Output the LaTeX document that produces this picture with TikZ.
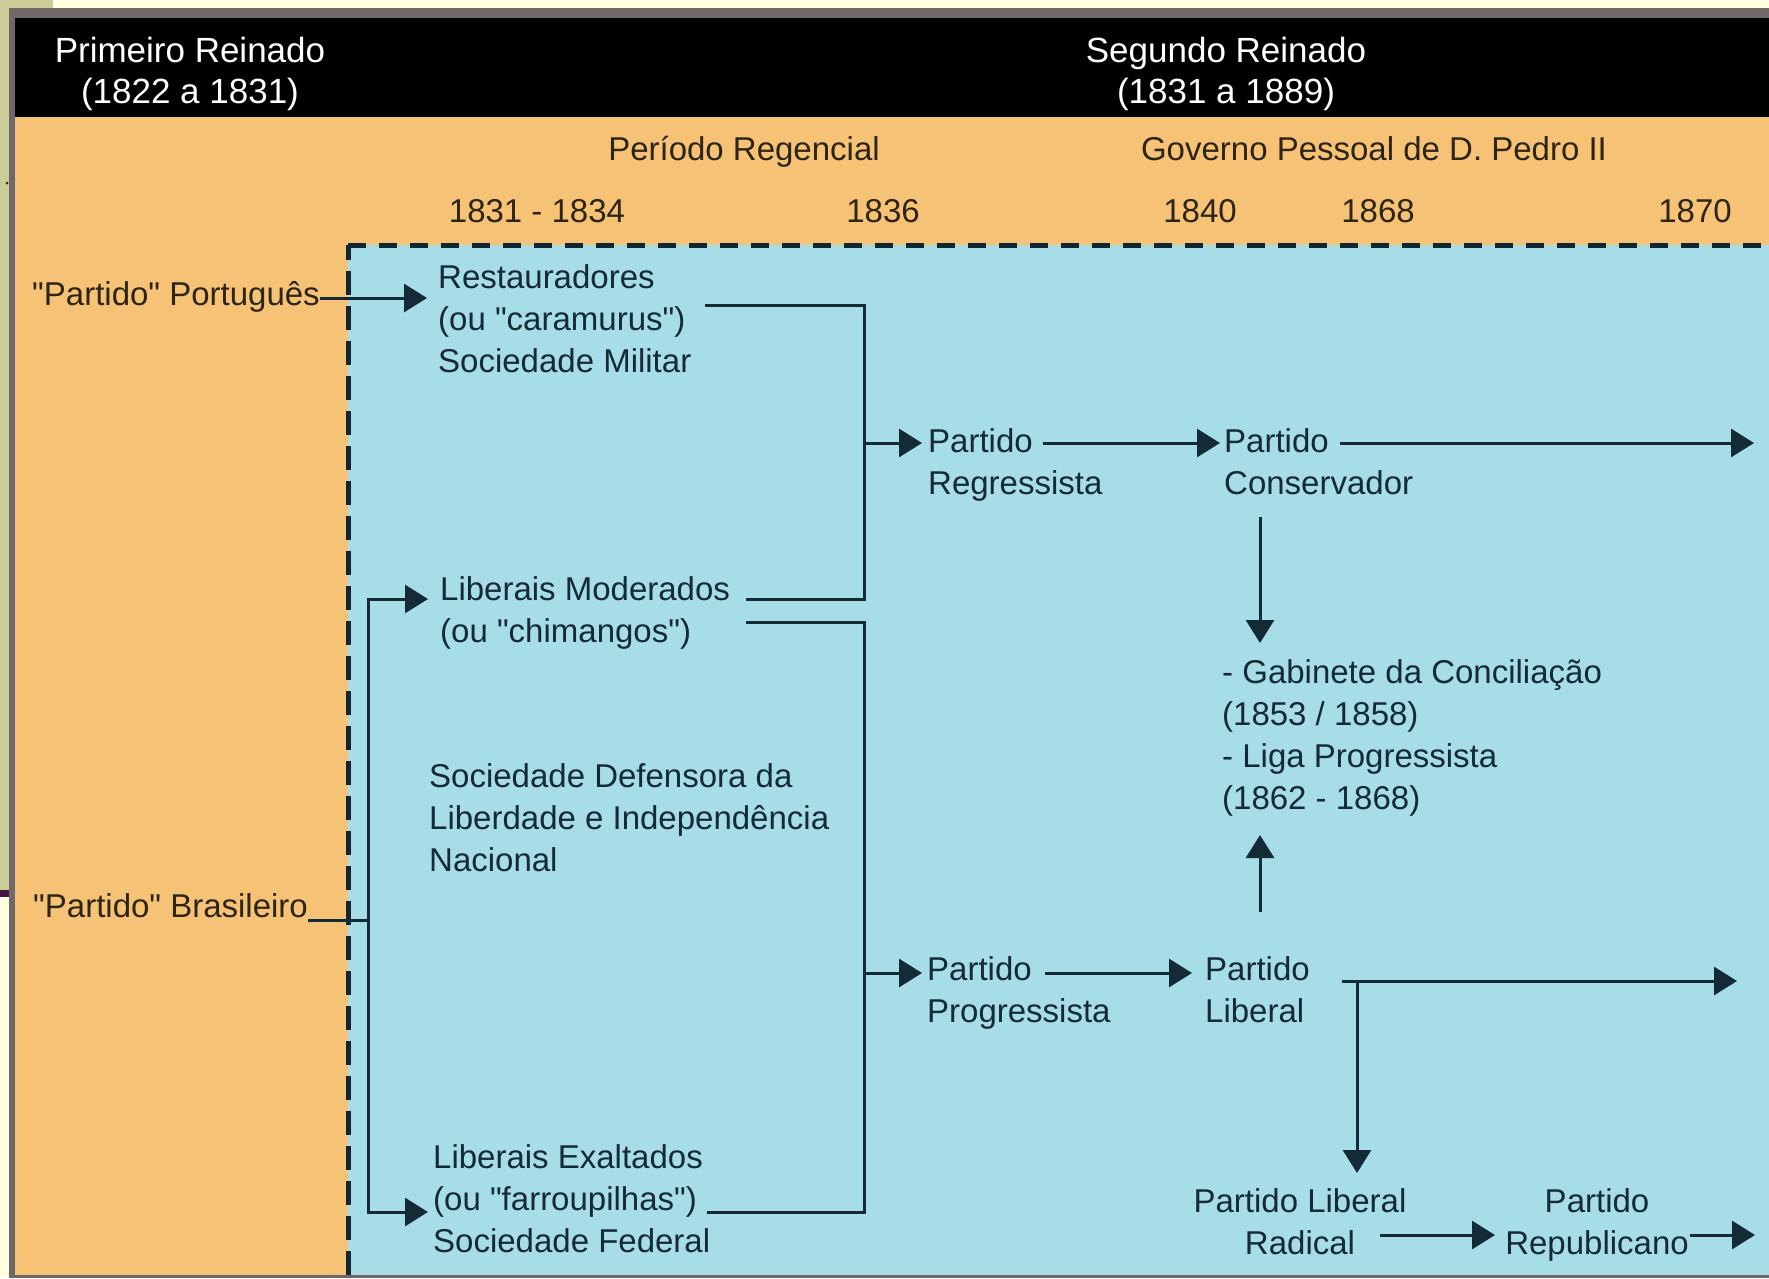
\documentclass[tikz,border=0pt]{standalone}
\usepackage{fontspec}
\setmainfont{Liberation Sans}[Ligatures=TeXOff]
\usetikzlibrary{arrows.meta}
\definecolor{olivebg}{RGB}{204,204,153}
\definecolor{creambg}{RGB}{255,255,224}
\definecolor{orng}{RGB}{246,195,118}
\definecolor{lblue}{RGB}{166,221,231}
\definecolor{ink}{RGB}{20,42,54}
\definecolor{brownink}{RGB}{45,36,20}
\definecolor{framegray}{RGB}{112,104,104}
\definecolor{slidepurple}{RGB}{70,20,70}
\begin{document}
\begin{tikzpicture}[x=1pt,y=-1pt,
  body/.style={font=\fontsize{33}{42}\selectfont, inner sep=0pt, align=left, anchor=north west, text=ink},
  bodyc/.style={body, align=center, anchor=north},
  hdr/.style={font=\fontsize{35}{41}\selectfont, inner sep=0pt, align=center, anchor=north, text=white},
  yr/.style={font=\fontsize{33}{42}\selectfont, inner sep=0pt, anchor=base, text=brownink},
  ln/.style={line width=3pt, draw=ink},
  arr/.style={ln, -{Triangle[length=23pt,width=28pt]}},
  dsh/.style={line width=5pt, draw=ink!90!black},
]
\useasboundingbox (0,0) rectangle (1769,1278);
% slide background
\fill[creambg] (0,0) rectangle (1769,1278);
\fill[olivebg] (0,0) rectangle (53,8);
\fill[olivebg] (0,0) rectangle (9,890);
\fill[slidepurple] (0,890) rectangle (9,897);
\fill[slidepurple] (7,183) circle (1.5);
% diagram frame and areas
\fill[framegray] (9,8) rectangle (1769,1278);
\fill[black] (15,18) rectangle (1769,117);
\fill[orng] (15,117) rectangle (1769,1275);
\fill[lblue] (348,245) rectangle (1769,1275);
\draw[dsh, dash pattern=on 24pt off 11pt] (348,1275) -- (348,245);
\draw[dsh, dash pattern=on 18pt off 13pt] (348,245) -- (1769,245);

% header
\node[hdr] (prim) at (190,33.3) {\strut Primeiro Reinado\\(1822 a 1831)};
\node[hdr] (seg) at (1226,33.3) {\strut Segundo Reinado\\(1831 a 1889)};
\node[yr] (perreg) at (744,160) {Período Regencial};
\node[yr] (govp) at (1374,160) {Governo Pessoal de D. Pedro II};
\node[yr] (y1) at (537,222) {1831 - 1834};
\node[yr] (y2) at (883,222) {1836};
\node[yr] (y3) at (1200,222) {1840};
\node[yr] (y4) at (1378,222) {1868};
\node[yr] (y5) at (1695,222) {1870};

% left labels
\node[body, text=brownink] (pp) at (32,275.6) {\strut"Partido" Português};
\node[body, text=brownink] (pb) at (33,887.6) {\strut"Partido" Brasileiro};

% blue area texts
\node[body] (rest) at (438,258.6) {\strut Restauradores\\(ou "caramurus")\\Sociedade Militar};
\node[body] (libmod) at (440,570.6) {\strut Liberais Moderados\\(ou "chimangos")};
\node[body] (socdef) at (429,757.6) {\strut Sociedade Defensora da\\Liberdade e Independência\\Nacional};
\node[body] (libexa) at (433,1138.6) {\strut Liberais Exaltados\\(ou "farroupilhas")\\Sociedade Federal};
\node[body] (preg) at (928,422.6) {\strut Partido\\Regressista};
\node[body] (pcons) at (1224,422.6) {\strut Partido\\Conservador};
\node[body] (gab) at (1222,653.6) {\strut - Gabinete da Conciliação\\(1853 / 1858)\\- Liga Progressista\\(1862 - 1868)};
\node[body] (pprog) at (927,950.6) {\strut Partido\\Progressista};
\node[body] (plib) at (1205,950.6) {\strut Partido\\Liberal};
\node[bodyc] (prad) at (1300,1182.6) {\strut Partido Liberal\\Radical};
\node[bodyc] (prep) at (1597,1182.6) {\strut Partido\\Republicano};

% junction coordinates
\coordinate (bj) at (368,920);
\coordinate (btop) at (368,599);
\coordinate (bbot) at (368,1212);
\coordinate (t1) at (705,305);
\coordinate (t2) at (864,305);
\coordinate (t3) at (864,599);
\coordinate (t4) at (746,599);
\coordinate (u1) at (746,622);
\coordinate (u2) at (864,622);
\coordinate (u3) at (864,1212);
\coordinate (u4) at (707,1212);
\coordinate (ja) at (864,443);
\coordinate (jb) at (864,973);
\coordinate (rgs) at (1043,443);
\coordinate (cns) at (1340,443);
\coordinate (cne) at (1754,443);
\coordinate (cdn1) at (1260,517);
\coordinate (cdn2) at (1260,643);
\coordinate (lup1) at (1260,912);
\coordinate (lup2) at (1260,835);
\coordinate (pgs) at (1045,973);
\coordinate (lbs) at (1342,981);
\coordinate (lbe) at (1737,981);
\coordinate (lbj) at (1357,981);
\coordinate (lbd) at (1357,1173);
\coordinate (rds) at (1380,1235);
\coordinate (rde) at (1495,1235);
\coordinate (rps) at (1690,1235);
\coordinate (rpe) at (1755,1235);

% connectors
\draw[arr, shorten >=11pt] (pp.east |- 0,298) -- (rest.west |- 0,298);
\draw[ln] (pb.east |- bj) -- (bj);
\draw[arr, shorten >=12pt] (bj) -- (btop) -- (libmod.west |- btop);
\draw[arr, shorten >=5pt] (bj) -- (bbot) -- (libexa.west |- bbot);
\draw[ln] (t1) -- (t2) -- (t3) -- (t4);
\draw[ln] (u1) -- (u2) -- (u3) -- (u4);
\draw[arr, shorten >=6pt] (ja) -- (preg.west |- ja);
\draw[arr, shorten >=5pt] (jb) -- (pprog.west |- jb);
\draw[arr, shorten >=4pt] (rgs) -- (pcons.west |- rgs);
\draw[arr] (cns) -- (cne);
\draw[arr] (cdn1) -- (cdn2);
\draw[arr] (lup1) -- (lup2);
\draw[arr, shorten >=13pt] (pgs) -- (plib.west |- pgs);
\draw[arr] (lbs) -- (lbe);
\draw[arr] (lbj) -- (lbd);
\draw[arr] (rds) -- (rde);
\draw[arr] (rps) -- (rpe);
\end{tikzpicture}
\end{document}
